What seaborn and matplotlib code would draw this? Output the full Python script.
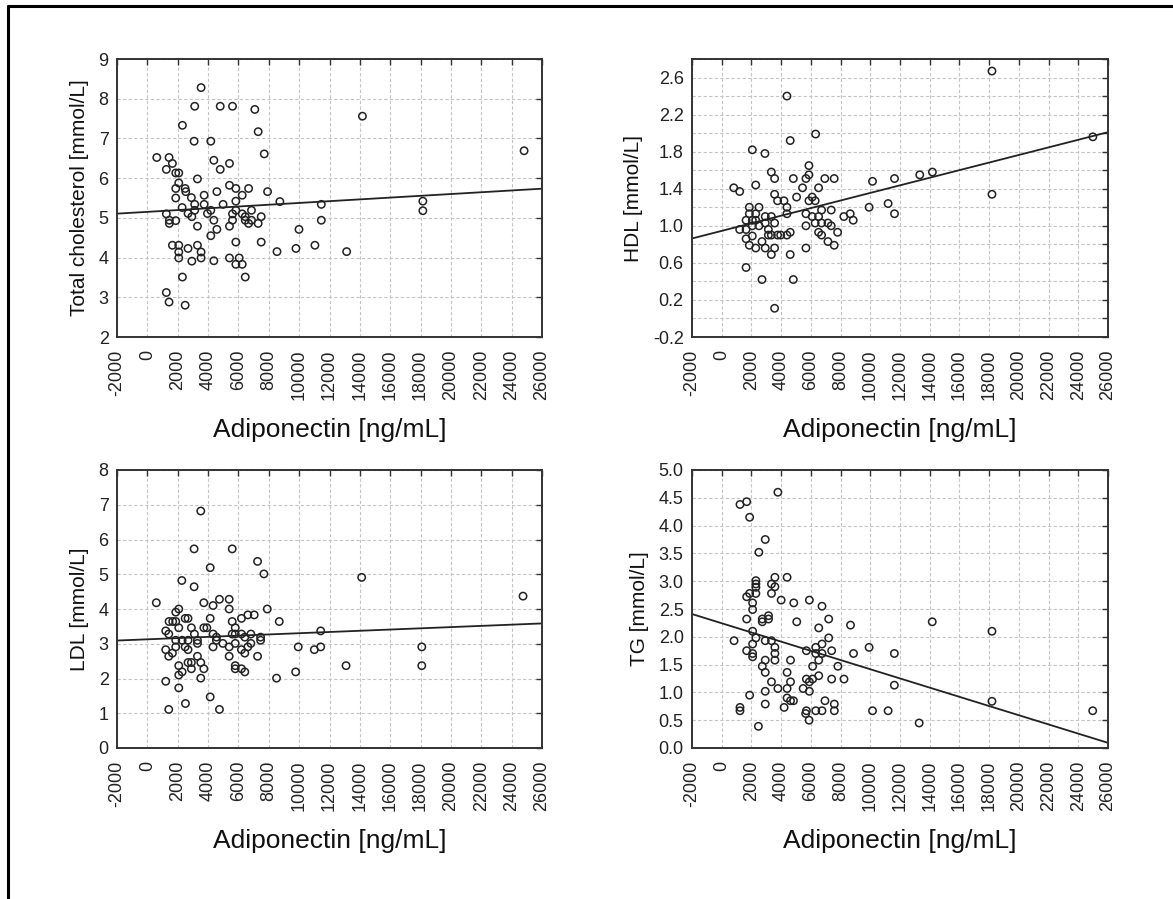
import matplotlib
matplotlib.use("Agg")
import matplotlib.pyplot as plt
import seaborn as sns
import numpy as np
from matplotlib.ticker import FixedLocator, FormatStrFormatter
from matplotlib.lines import Line2D

# ---------------- data ----------------
tc_x = [620, 1430, 1250, 1650, 1870, 2070, 2070, 1870, 1870, 2310, 3120, 3540, 3080, 3300,
        2490, 2530, 2900, 3120, 3120, 2290, 2680, 2930, 1250, 1450, 1450, 1870, 1650, 2070,
        2070, 2070, 2680, 2930, 2310, 1250, 1430, 2490, 3300, 3300, 3540, 3540, 3740, 3740,
        3960, 4180, 4380, 4180, 4380, 4800, 4800, 4580, 4990, 4580, 4180, 4380, 5410, 5610,
        5410, 5830, 5830, 5610, 5610, 5410, 5830, 6250, 6670, 6250, 6450, 6450, 6670, 6860,
        6860, 5830, 5410, 6050, 5830, 6250, 6450, 7080, 7300, 7700, 7920, 7500, 7300, 7500,
        8730, 8540, 9790, 9990, 11040, 11460, 11460, 13130, 14170, 18150, 18150, 24820]
tc_y = [6.52, 6.52, 6.22, 6.37, 6.13, 6.13, 5.88, 5.74, 5.50, 7.33, 7.81, 8.28, 6.93, 5.98,
        5.74, 5.66, 5.51, 5.34, 5.19, 5.26, 5.11, 5.03, 5.10, 4.94, 4.86, 4.93, 4.31, 4.31,
        4.14, 3.99, 4.23, 3.91, 3.51, 3.12, 2.88, 2.80, 4.79, 4.31, 4.14, 3.99, 5.57, 5.34,
        5.11, 5.19, 4.94, 6.93, 6.45, 7.81, 6.22, 5.66, 5.34, 4.71, 4.55, 3.92, 6.37, 7.81,
        5.82, 5.74, 5.42, 5.10, 4.94, 4.79, 5.19, 5.57, 5.74, 5.10, 5.03, 4.94, 4.86, 5.19,
        4.94, 4.39, 3.99, 3.99, 3.83, 3.83, 3.51, 7.73, 7.17, 6.61, 5.66, 5.03, 4.86, 4.39,
        5.41, 4.15, 4.23, 4.71, 4.31, 5.34, 4.94, 4.15, 7.56, 5.42, 5.18, 6.69]

hdl_x = [810, 1210, 2060, 2910, 2290, 1860, 2510, 1860, 2290, 1640, 2060, 2290, 1210, 1640,
         2060, 2510, 2930, 3340, 2930, 3560, 3140, 1640, 1860, 2060, 2290, 2710, 2930, 3140,
         3340, 3760, 3970, 3340, 3560, 1640, 2710, 3560, 3340, 3560, 3560, 3760, 4190, 4390,
         4390, 4390, 4610, 4610, 4820, 4390, 4610, 4820, 5040, 5440, 5670, 5870, 5870, 5670,
         5670, 5670, 5870, 6090, 6290, 6090, 6320, 6520, 6720, 6520, 6290, 6720, 6520, 6720,
         6940, 7150, 7150, 7370, 7370, 7570, 7570, 7800, 8220, 8650, 8850, 9920, 10150, 11200,
         11630, 11630, 13330, 14180, 18190, 18190, 24980]
hdl_y = [1.41, 1.37, 1.82, 1.78, 1.44, 1.20, 1.20, 1.13, 1.13, 1.06, 1.06, 1.06, 0.96, 0.96,
         1.00, 1.00, 1.10, 1.10, 1.03, 1.03, 0.96, 0.86, 0.79, 0.89, 0.76, 0.83, 0.76, 0.90,
         0.90, 0.90, 0.90, 0.69, 0.76, 0.55, 0.42, 0.11, 1.58, 1.51, 1.34, 1.27, 1.27, 1.20,
         1.13, 0.90, 0.93, 0.69, 0.42, 2.40, 1.92, 1.51, 1.31, 1.41, 1.51, 1.55, 1.65, 1.13,
         1.00, 0.76, 1.27, 1.31, 1.27, 1.10, 1.99, 1.41, 1.17, 1.10, 1.03, 1.03, 0.93, 0.90,
         1.51, 1.03, 0.83, 1.17, 1.00, 1.51, 0.79, 0.93, 1.10, 1.13, 1.06, 1.20, 1.48, 1.24,
         1.51, 1.13, 1.55, 1.58, 2.67, 1.34, 1.96]

ldl_x = [590, 1210, 1410, 1430, 1670, 1870, 2070, 1870, 2070, 1870, 1870, 1210, 1410, 1650,
         1210, 1410, 2070, 2290, 2070, 2070, 2510, 2270, 2490, 2680, 2900, 3100, 2290, 2680,
         3300, 3300, 2490, 2680, 2680, 2900, 2900, 3300, 3520, 3720, 3520, 3080, 3080, 3520,
         3720, 3720, 3920, 4140, 4140, 4330, 4330, 4550, 4330, 4550, 4750, 4970, 4140, 4750,
         5390, 5390, 5590, 5590, 5790, 5590, 5790, 5390, 5790, 5390, 5790, 5790, 6200, 6620,
         7040, 6200, 6420, 6820, 6200, 6420, 6620, 6820, 6200, 6420, 7260, 7680, 7900, 7460,
         7460, 7260, 8690, 8510, 9770, 9940, 11000, 11420, 11420, 13090, 14120, 18080, 18080,
         24750]
ldl_y = [4.18, 3.37, 3.28, 3.64, 3.64, 3.91, 4.00, 3.64, 3.46, 3.10, 2.91, 2.83, 2.64, 2.73,
         1.92, 1.11, 2.37, 2.19, 2.10, 1.73, 1.28, 4.82, 3.73, 3.73, 3.46, 3.28, 3.10, 3.10,
         3.10, 3.01, 2.91, 2.83, 2.46, 2.46, 2.28, 2.64, 2.46, 2.28, 2.01, 5.73, 4.64, 6.82,
         4.18, 3.46, 3.46, 5.19, 3.73, 4.10, 3.28, 3.19, 2.91, 3.10, 4.28, 3.01, 1.47, 1.11,
         4.28, 4.00, 5.73, 3.64, 3.46, 3.28, 3.28, 2.91, 3.01, 2.64, 2.37, 2.28, 3.73, 3.83,
         3.83, 3.28, 3.19, 3.28, 2.83, 2.73, 2.91, 3.01, 2.28, 2.19, 5.37, 5.01, 4.00, 3.19,
         3.10, 2.64, 3.64, 2.01, 2.19, 2.91, 2.83, 3.37, 2.91, 2.37, 4.91, 2.91, 2.37, 4.37]

tg_x = [1230, 1680, 1880, 3780, 2930, 2500, 2300, 2300, 2300, 2300, 1880, 1680, 2080, 2080,
        3580, 3350, 3580, 3350, 4000, 4400, 1680, 2730, 2730, 3150, 3150, 2080, 2300, 830,
        2930, 3350, 1680, 2080, 2080, 2080, 3580, 3580, 3580, 2930, 2730, 2930, 3350, 2930,
        1880, 1230, 1230, 2930, 3780, 4850, 5050, 4630, 4400, 4630, 4400, 4400, 4630, 4830,
        4200, 5900, 6750, 7200, 6530, 7200, 6750, 6330, 5700, 6750, 6330, 6530, 7400, 7820,
        6120, 5700, 6120, 5900, 6530, 5480, 5900, 7400, 8230, 6950, 7580, 7580, 5700, 6330,
        6750, 8670, 8870, 9920, 11620, 11620, 10150, 11200, 14170, 18190, 18190, 24970, 2470,
        5880, 13290, 5650]
tg_y = [4.38, 4.43, 4.15, 4.60, 3.75, 3.52, 3.01, 2.95, 2.89, 2.78, 2.78, 2.72, 2.61, 2.49,
        3.07, 2.95, 2.90, 2.78, 2.66, 3.07, 2.32, 2.32, 2.27, 2.38, 2.32, 2.10, 1.98, 1.93,
        1.93, 1.93, 1.75, 1.87, 1.70, 1.64, 1.81, 1.70, 1.58, 1.58, 1.47, 1.36, 1.19, 1.02,
        0.95, 0.73, 0.67, 0.79, 1.07, 2.61, 2.27, 1.58, 1.36, 1.19, 1.07, 0.90, 0.85, 0.85,
        0.73, 2.66, 2.55, 2.32, 2.16, 1.98, 1.87, 1.81, 1.75, 1.70, 1.70, 1.58, 1.75, 1.47,
        1.47, 1.24, 1.24, 1.19, 1.30, 1.07, 1.02, 1.24, 1.24, 0.85, 0.79, 0.67, 0.67, 0.67,
        0.67, 2.21, 1.70, 1.81, 1.70, 1.13, 0.67, 0.67, 2.27, 2.10, 0.84, 0.67, 0.39,
        0.50, 0.45, 0.62]

x_label = "Adiponectin [ng/mL]"
y_labels = ["Total cholesterol [mmol/L]", "HDL [mmol/L]", "LDL [mmol/L]", "TG [mmol/L]"]
x_ticks = list(range(-2000, 26001, 2000))

# ---------------- style ----------------
sns.set_style("white")
plt.rcParams['font.family'] = ['Liberation Sans', 'DejaVu Sans']
plt.rcParams['axes.unicode_minus'] = False

W, H = 1173, 899
fig = plt.figure(figsize=(W / 100, H / 100), dpi=100)
fig.patch.set_facecolor("white")

def add_ax(l, t, r, b):
    return fig.add_axes([l / W, 1 - b / H, (r - l) / W, (b - t) / H])

panels = [
    dict(box=(117, 59, 542, 337), x=tc_x, y=tc_y, lab=y_labels[0], ylim=(2, 9),
         major=np.arange(2, 9.01, 1), minor=[], fmt="%d"),
    dict(box=(692, 59, 1108, 337), x=hdl_x, y=hdl_y, lab=y_labels[1], ylim=(-0.2, 2.8),
         major=np.arange(-0.2, 2.61, 0.4), minor=np.arange(0.0, 2.81, 0.4), fmt="%.1f"),
    dict(box=(117, 470, 542, 748), x=ldl_x, y=ldl_y, lab=y_labels[2], ylim=(0, 8),
         major=np.arange(0, 8.01, 1), minor=[], fmt="%d"),
    dict(box=(692, 470, 1108, 748), x=tg_x, y=tg_y, lab=y_labels[3], ylim=(0, 5),
         major=np.arange(0, 5.01, 0.5), minor=[], fmt="%.1f"),
]

ink = "#222222"
for p in panels:
    ax = add_ax(*p["box"])
    ax.set_xlim(-2000, 26000)
    ax.set_ylim(*p["ylim"])
    ax.xaxis.set_major_locator(FixedLocator(x_ticks))
    ax.yaxis.set_major_locator(FixedLocator(p["major"]))
    ax.yaxis.set_minor_locator(FixedLocator(p["minor"]))
    ax.yaxis.set_major_formatter(FormatStrFormatter(p["fmt"]))
    ax.grid(True, which="both", linestyle=(0, (3, 2)), color="#c4c4c4", linewidth=0.8)
    ax.set_axisbelow(True)

    sns.regplot(x=p["x"], y=p["y"], ax=ax, scatter=False, ci=None, truncate=False,
                line_kws=dict(color=ink, lw=1.3))
    sns.scatterplot(x=p["x"], y=p["y"], ax=ax, s=28, facecolor="none",
                    edgecolor=ink, linewidth=1.1, marker="o", zorder=3)
    ax.set_xlim(-2000, 26000)
    ax.set_ylim(*p["ylim"])

    for s in ax.spines.values():
        s.set_color("#333333")
        s.set_linewidth(1.4)
    ax.tick_params(which="both", direction="in", top=True, right=True, length=4,
                   width=1, color="#333333", labelcolor=ink, labelsize=13)
    ax.tick_params(axis="x", pad=9)
    ax.tick_params(axis="y", pad=6)
    for lbl in ax.get_xticklabels():
        lbl.set_rotation(90)
    ax.set_xlabel(x_label, fontsize=19, color="#111111", labelpad=13)
    ax.set_ylabel(p["lab"], fontsize=15, color="#111111", labelpad=7)

# figure frame (left and top edges)
fig.add_artist(Line2D([8 / W, 8 / W], [0, 1 - 6 / H], transform=fig.transFigure,
                      color="black", lw=2.2))
fig.add_artist(Line2D([8 / W, 1], [1 - 6 / H, 1 - 6 / H], transform=fig.transFigure,
                      color="black", lw=2.2))

fig.savefig("out.png", dpi=100, facecolor="white")
